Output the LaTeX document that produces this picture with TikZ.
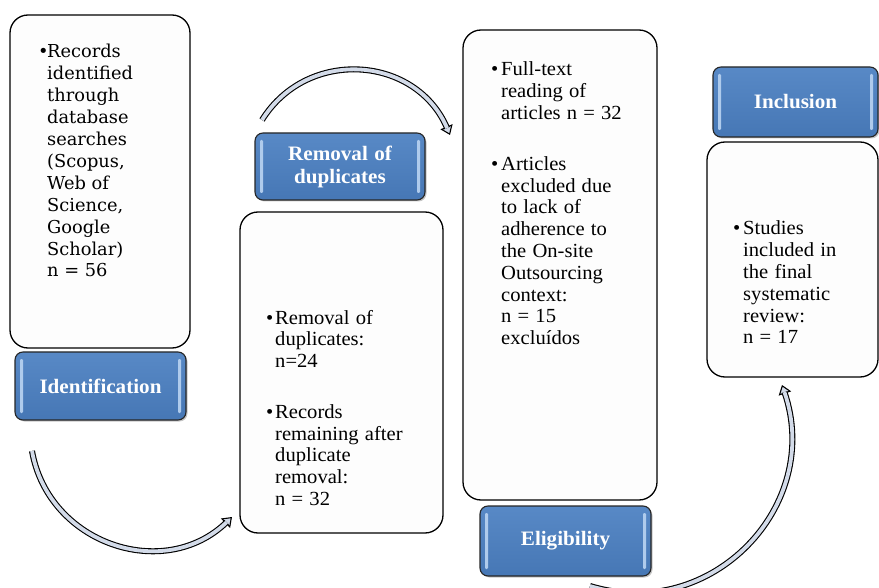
\documentclass[tikz,border=0pt]{standalone}
\usepackage{fontspec}
\setmainfont{Liberation Serif}[FakeStretch=1.03, WordSpace=1.2]
\newfontfamily\boxonefont{DejaVu Serif}
\usetikzlibrary{arrows.meta,shadows}
\definecolor{boxblue}{HTML}{4F81BD}
\definecolor{boxtop}{HTML}{5889C6}
\definecolor{boxbot}{HTML}{4677B5}
\definecolor{hilite}{HTML}{AFCBEC}
\definecolor{arrowfill}{HTML}{D3DBE9}
\definecolor{paper}{HTML}{FDFDFD}
\begin{document}
\begin{tikzpicture}[x=1pt,y=1pt,
  txtbox/.style={draw=black, line width=1.3pt, fill=paper, rounded corners=18pt, inner sep=0pt},
  bluebox/.style={draw=black!85, line width=1.1pt, rounded corners=8pt, inner sep=0pt,
    top color=boxtop, bottom color=boxbot,
    drop shadow={shadow xshift=1.5pt, shadow yshift=-1.5pt, opacity=.45},
    text=white, font=\bfseries\fontsize{20.5}{23}\selectfont, align=center,
    path picture={
      \fill[hilite, rounded corners=1.2pt] ([xshift=5pt,yshift=-7pt]path picture bounding box.north west) rectangle ([xshift=8pt,yshift=7pt]path picture bounding box.south west);
      \fill[hilite, rounded corners=1.2pt] ([xshift=-5pt,yshift=-7pt]path picture bounding box.north east) rectangle ([xshift=-8pt,yshift=7pt]path picture bounding box.south east);
    }},
  txt/.style={inner sep=0pt, anchor=base west, font=\fontsize{20}{21.8}\selectfont},
  tipline/.style={line width=1.1pt, draw=black, -{Triangle[width=13pt,length=9pt,fill=arrowfill]}},
  hollow/.style={double=arrowfill, double distance=3.8pt, line width=1.1pt, draw=black, shorten >=7.5pt}
]
\useasboundingbox (0,0) rectangle (879,-588);

% text boxes
\node[txtbox, minimum width=180pt, minimum height=333pt] (b1) at (100,-181.5) {};
\node[txtbox, minimum width=203pt, minimum height=321pt] (b2) at (341.5,-372.5) {};
\node[txtbox, minimum width=194pt, minimum height=470pt] (b3) at (560,-265) {};
\node[txtbox, minimum width=171pt, minimum height=235pt] (b4) at (792.5,-259.5) {};

% blue stage boxes
\node[bluebox, minimum width=171pt, minimum height=68pt] (idb) at (100.5,-386) {Identification};
\node[bluebox, minimum width=170pt, minimum height=67pt] (rmb) at (340,-166.5) {Removal of\\duplicates};
\node[bluebox, minimum width=171pt, minimum height=70pt] (elb) at (565.5,-541) {Eligibility};
\node[bluebox, minimum width=165pt, minimum height=70pt] (inb) at (795.5,-102) {Inclusion};

% texts
\node[txt, font=\boxonefont\fontsize{17.8}{21.9}\selectfont] (t1) at (38,-58) {\begin{tabular}[t]{@{}p{9pt}@{}l@{}}
•&Records\\ &identified\\ &through\\ &database\\ &searches\\ &(Scopus,\\ &Web of\\ &Science,\\ &Google\\ &Scholar)\\ &n = 56\end{tabular}};
\node[txt] (t2) at (266,-324) {\begin{tabular}[t]{@{}p{9pt}@{}l@{}}
•&Removal of\\ &duplicates:\\ &n=24\\[29pt]
•&Records\\ &remaining after\\ &duplicate\\ &removal:\\ &n = 32\end{tabular}};
\node[txt] (t3) at (491,-76) {\begin{tabular}[t]{@{}p{10pt}@{}l@{}}
•&Full-text\\ &reading of\\ &articles n = 32\\[29pt]
•&Articles\\ &excluded due\\ &to lack of\\ &adherence to\\ &the On-site\\ &Outsourcing\\ &context:\\ &n = 15\\ &excluídos\end{tabular}};
\node[txt] (t4) at (733,-235) {\begin{tabular}[t]{@{}p{10pt}@{}l@{}}
•&Studies\\ &included in\\ &the final\\ &systematic\\ &review:\\ &n = 17\end{tabular}};

% curved hollow arrows
\coordinate (a1s) at (32,-451);
\coordinate (a1e) at (232,-517);
\coordinate (a2s) at (262,-120);
\coordinate (a2e) at (450,-135);
\coordinate (a3s) at (590,-586);
\coordinate (a3e) at (782,-385);

\draw[tipline] (a1s) to[out=280,in=224,looseness=1.15] (a1e);
\draw[hollow] (a1s) to[out=280,in=224,looseness=1.15] (a1e);
\draw[tipline] (a2s) to[out=58,in=113,looseness=1.17] (a2e);
\draw[hollow] (a2s) to[out=58,in=113,looseness=1.17] (a2e);
\draw[tipline] (a3s) to[out=343,in=289,looseness=1.17] (a3e);
\draw[hollow] (a3s) to[out=343,in=289,looseness=1.17] (a3e);
\end{tikzpicture}
\end{document}
